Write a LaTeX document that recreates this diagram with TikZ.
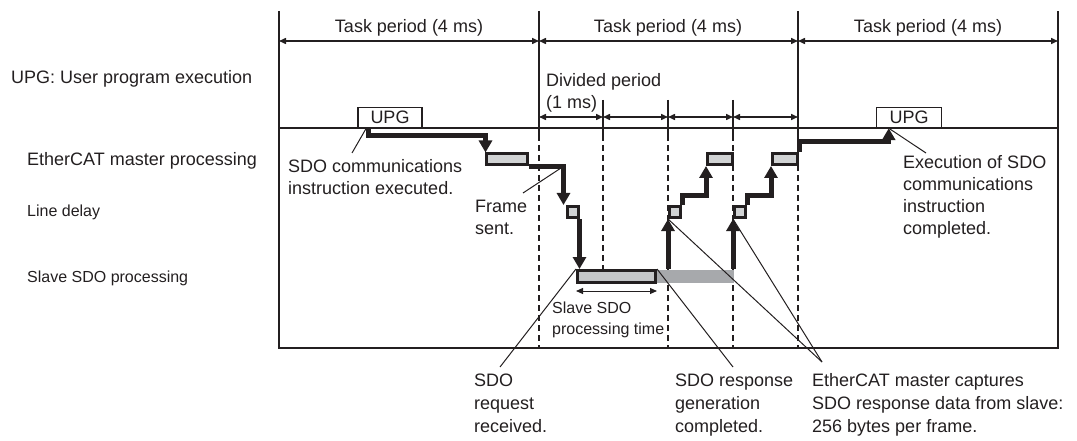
\documentclass[tikz,border=0pt]{standalone}
\usepackage{fontspec}
\setmainfont{Liberation Sans}
\usetikzlibrary{arrows.meta}
\definecolor{ink}{HTML}{231F20}
\definecolor{box-fill}{HTML}{D1D3D4}
\definecolor{bar-fill}{HTML}{C4C6C8}
\definecolor{bar-ext}{HTML}{A7A9AC}
\tikzset{
  frame/.style={draw=ink, line width=1.5pt},
  divider/.style={draw=ink, line width=1.5pt, dash pattern=on 6pt off 4pt},
  dim/.style={draw=ink, line width=1.5pt, {Triangle[length=7pt,width=6pt]}-{Triangle[length=7pt,width=6pt]}},
  upg-box/.style={
    rectangle, draw=ink, fill=white, line width=1.5pt,
    minimum width=64pt, minimum height=20pt, inner sep=0pt,
    font=\fontsize{18}{22}\selectfont, text=ink
  },
  proc-box/.style={
    rectangle, draw=ink, fill=box-fill, line width=3pt, inner sep=0pt,
    minimum height=11pt
  },
  delay-box/.style={
    rectangle, draw=ink, fill=box-fill, line width=3pt, inner sep=0pt,
    minimum width=11pt, minimum height=11pt
  },
  flow/.style={draw=ink, line width=5pt, -{Triangle[length=12pt,width=13pt]}},
  callout/.style={draw=ink, line width=1pt},
  lbl/.style={font=\fontsize{18}{22}\selectfont, text=ink, inner sep=0pt, align=left},
  lbl-low/.style={font=\fontsize{18}{23}\selectfont, text=ink, inner sep=0pt, align=left},
  lbl-small/.style={font=\fontsize{16}{21}\selectfont, text=ink, inner sep=0pt, align=left}
}
\begin{document}
\begin{tikzpicture}[x=1pt, y=-1pt]
  \useasboundingbox (0,0) rectangle (1077,441);

  % ---- Period boundaries ---------------------------------------------------
  \coordinate (b0) at (279,11);
  \coordinate (b1) at (539,11);
  \coordinate (b2) at (798,11);
  \coordinate (b3) at (1058,11);
  \coordinate (d1) at (603,100);
  \coordinate (d2) at (668,100);
  \coordinate (d3) at (733,100);

  \draw[frame] (b0) -- (b0 |- 0,348) -| (b3);
  \draw[frame] (b0 |- 0,128) -- (b3 |- 0,128);
  \draw[frame] (b1) -- (b1 |- 0,135);
  \draw[frame] (b2) -- (b2 |- 0,135);
  \draw[frame] (d1) -- (d1 |- 0,135);
  \draw[frame] (d2) -- (d2 |- 0,135);
  \draw[frame] (d3) -- (d3 |- 0,135);
  \draw[divider] (b1 |- 0,135) -- (b1 |- 0,348);
  \draw[divider] (d1 |- 0,135) -- (d1 |- 0,270);
  \draw[divider] (d2 |- 0,135) -- (d2 |- 0,348);
  \draw[divider] (d3 |- 0,135) -- (d3 |- 0,348);
  \draw[divider] (b2 |- 0,135) -- (b2 |- 0,348);

  % ---- Period dimensions ---------------------------------------------------
  \draw[dim] (b0 |- 0,41) -- (b1 |- 0,41);
  \draw[dim] (b1 |- 0,41) -- (b2 |- 0,41);
  \draw[dim] (b2 |- 0,41) -- (b3 |- 0,41);
  \draw[dim] (b1 |- 0,117) -- (d1 |- 0,117);
  \draw[dim] (d1 |- 0,117) -- (d2 |- 0,117);
  \draw[dim] (d2 |- 0,117) -- (d3 |- 0,117);
  \draw[dim] (d3 |- 0,117) -- (b2 |- 0,117);

  \node[lbl, anchor=base] (tp1) at (409,33) {Task period (4 ms)};
  \node[lbl, anchor=base] (tp2) at (668,33) {Task period (4 ms)};
  \node[lbl, anchor=base] (tp3) at (928,33) {Task period (4 ms)};
  \node[lbl, anchor=base west] (divided) at (546,109) {Divided period\\(1 ms)};

  % ---- Row labels ----------------------------------------------------------
  \node[lbl, anchor=base west] (row-upg) at (11,84) {UPG: User program execution};
  \node[lbl, anchor=base west] (row-ecm) at (27,166) {EtherCAT master processing};
  \node[lbl-small, anchor=base west] (row-line) at (27,217) {Line delay};
  \node[lbl-small, anchor=base west] (row-slave) at (27,282) {Slave SDO processing};

  % ---- Processing boxes ----------------------------------------------------
  \node[upg-box] (upg1) at (390,117.5) {UPG};
  \node[upg-box, minimum width=65pt] (upg2) at (909,117.5) {UPG};
  \node[proc-box, minimum width=41pt] (ecm1) at (506.5,159.5) {};
  \node[proc-box, minimum width=25pt] (ecm2) at (720,159) {};
  \node[proc-box, minimum width=25pt] (ecm3) at (785,159) {};
  \node[delay-box] (ld1) at (572.5,212) {};
  \node[delay-box] (ld2) at (675,212) {};
  \node[delay-box] (ld3) at (740,212) {};
  \node[fill=bar-ext, inner sep=0pt, minimum width=77pt, minimum height=13pt] (sdoext) at (695.5,276.5) {};
  \node[proc-box, fill=bar-fill, minimum width=78pt, minimum height=12pt] (sdo) at (616.5,276.5) {};

  % ---- Flow of the SDO request and response --------------------------------
  \draw[flow] ([xshift=11pt]upg1.south west) -- ++(0,7) -| ([xshift=1pt]ecm1.north west);
  \draw[flow] (ecm1.south east) -| ([xshift=-2pt]ld1.north west);
  \draw[flow] (ld1.south east) -- (ld1.south east |- sdo.north);
  \draw[flow] (ld2.south west |- sdo.north) -- (ld2.south west);
  \draw[flow] (ld2.north east) -- ++(0,-9) -| (ecm2.south west);
  \draw[flow] (ld3.south west |- sdo.north) -- (ld3.south west);
  \draw[flow] (ld3.north east) -- ++(0,-9) -| (ecm3.south west);
  \draw[flow] (ecm3.north east) -- ++(0,-10) -| ([xshift=13pt]upg2.south west);

  \draw[dim, line width=1pt] (sdo.south west |- 0,291) -- (sdo.south east |- 0,291);
  \node[lbl-small, anchor=base west] (proctime) at (552,334) {Slave SDO\\processing time};

  % ---- Callouts ------------------------------------------------------------
  \coordinate (exec-end) at (352,153);
  \coordinate (frame-pt) at (561,168);
  \coordinate (frame-end) at (523,193);
  \coordinate (req-end) at (500,367);
  \coordinate (resp-end) at (733,367);
  \coordinate (cap-end) at (822,362);
  \coordinate (done-end) at (926,153);

  \draw[callout] ([xshift=9pt]upg1.south west) -- (exec-end);
  \draw[callout] (frame-pt) -- (frame-end);
  \draw[callout] (sdo.north west) -- (req-end);
  \draw[callout] (sdo.north east) -- (resp-end);
  \draw[callout] (ld2.south west) -- (cap-end);
  \draw[callout] (ld3.south west) -- (cap-end);
  \draw[callout] ([xshift=13pt]upg2.south west) -- (done-end);

  \node[lbl, anchor=base west] (exec) at (288,194) {SDO communications\\instruction executed.};
  \node[lbl, anchor=base west] (frame) at (475,234) {Frame\\sent.};
  \node[lbl, anchor=base west] (done) at (903,234) {Execution of SDO\\communications\\instruction\\completed.};
  \node[lbl-low, anchor=base west] (req) at (474,432) {SDO\\request\\received.};
  \node[lbl-low, anchor=base west] (resp) at (675,432) {SDO response\\generation\\completed.};
  \node[lbl-low, anchor=base west] (cap) at (812,432) {EtherCAT master captures\\SDO response data from slave:\\256 bytes per frame.};

\end{tikzpicture}
\end{document}
